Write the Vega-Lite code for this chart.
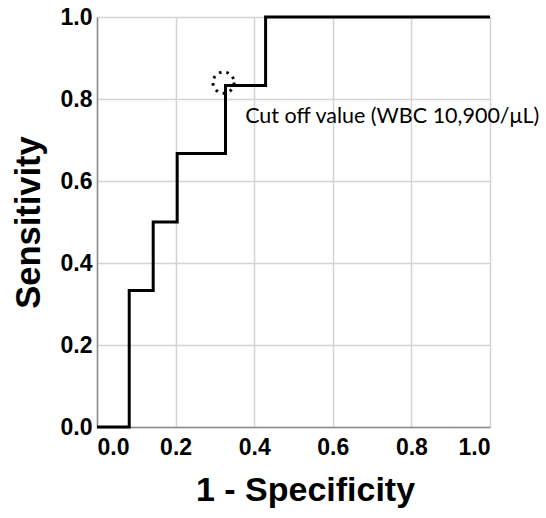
{
  "$schema": "https://vega.github.io/schema/vega-lite/v6.json",
  "autosize": {"type": "none"},
  "width": 393,
  "height": 410,
  "padding": {"left": 97, "top": 17, "right": 56, "bottom": 91},
  "background": "white",
  "config": {
    "view": {"stroke": null},
    "axis": {
      "labelFont": "Liberation Sans",
      "labelFontWeight": "bold",
      "labelFontSize": 23,
      "labelColor": "#000000",
      "titleFont": "Liberation Sans",
      "titleFontWeight": "bold",
      "titleFontSize": 34,
      "titleColor": "#000000",
      "gridColor": "#d4d4d4",
      "gridWidth": 1.5,
      "domainColor": "#8c8c8c",
      "domainWidth": 1.5,
      "ticks": false
    }
  },
  "datasets": {
    "roc": [
      {"fpr": 0.0, "sens": 0.0},
      {"fpr": 0.082, "sens": 0.333},
      {"fpr": 0.143, "sens": 0.5},
      {"fpr": 0.204, "sens": 0.667},
      {"fpr": 0.327, "sens": 0.833},
      {"fpr": 0.429, "sens": 1.0},
      {"fpr": 1.0, "sens": 1.0}
    ],
    "cutoff": [
      {"fpr": 0.322, "sens": 0.84, "label": "Cut off value (WBC 10,900/μL)", "lx": 0.377, "ly": 0.756}
    ]
  },
  "layer": [
    {
      "data": {"name": "roc"},
      "mark": {"type": "line", "interpolate": "step-after", "color": "#000000", "strokeWidth": 3},
      "encoding": {
        "x": {
          "field": "fpr", "type": "quantitative",
          "scale": {"domain": [0, 1], "nice": false},
          "axis": {"values": [0, 0.2, 0.4, 0.6, 0.8, 1.0], "format": ".1f", "title": "1 - Specificity", "labelPadding": 9, "titlePadding": 14, "titleX": 208}
        },
        "y": {
          "field": "sens", "type": "quantitative",
          "scale": {"domain": [0, 1], "nice": false},
          "axis": {"values": [0, 0.2, 0.4, 0.6, 0.8, 1.0], "format": ".1f", "title": "Sensitivity", "labelPadding": 5, "titlePadding": 14, "titleFontSize": 34.5}
        }
      }
    },
    {
      "data": {"name": "cutoff"},
      "mark": {"type": "point", "shape": "circle", "filled": false, "color": "#000000", "strokeWidth": 3, "strokeDash": [2.5, 5], "size": 450, "opacity": 1},
      "encoding": {
        "x": {"field": "fpr", "type": "quantitative"},
        "y": {"field": "sens", "type": "quantitative"}
      }
    },
    {
      "data": {"name": "cutoff"},
      "mark": {"type": "text", "align": "left", "baseline": "middle", "font": "Lato", "fontSize": 21.5, "color": "#000000"},
      "encoding": {
        "x": {"field": "lx", "type": "quantitative"},
        "y": {"field": "ly", "type": "quantitative"},
        "text": {"field": "label"}
      }
    }
  ]
}
